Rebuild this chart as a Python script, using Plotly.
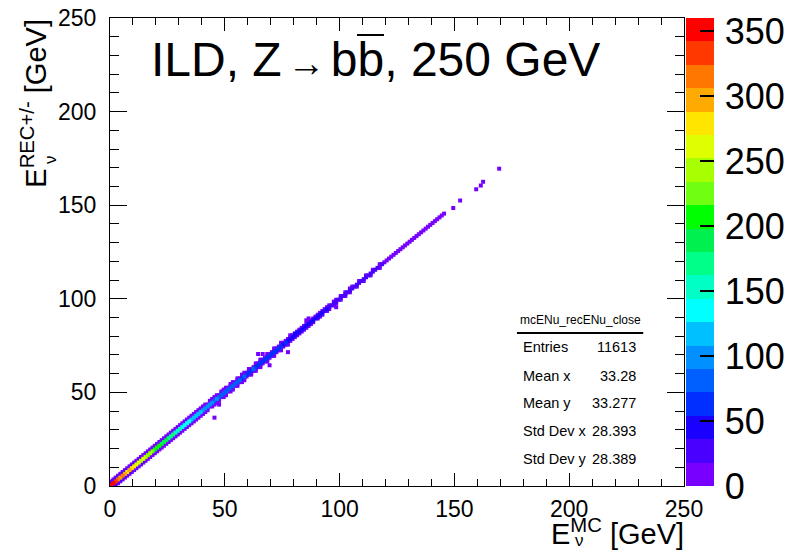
import numpy as np
import plotly.graph_objects as go

# ---------------- data (1 GeV bins) ----------------
nbins = 250
# counts on the diagonal bin (x = i, y = i)
diag_counts = [
    359, 345, 332, 318, 300, 310, 296, 284, 290, 276,
    280, 268, 262, 250, 255, 238, 230, 236, 220, 214,
    205, 210, 198, 190, 182, 176, 170, 165, 158, 150,
    148, 140, 136, 130, 128, 122, 125, 116, 112, 108,
    104, 100, 98, 95, 92, 88, 90, 85, 82, 80,
    78, 80, 76, 74, 78, 72, 75, 70, 74, 68,
    70, 66, 72, 64, 68, 62, 66, 60, 64, 58,
    60, 56, 58, 54, 57, 52, 55, 50, 53, 48,
    50, 46, 48, 44, 46, 42, 44, 40, 42, 38,
    40, 36, 38, 34, 36, 32, 34, 30, 32, 28,
    30, 27, 28, 25, 26, 24, 25, 22, 23, 21,
    22, 20, 21, 19, 20, 18, 19, 17, 18, 16,
    17, 15, 16, 14, 15, 13, 14, 12, 13, 11,
    12, 10, 11, 9, 10, 8, 9, 7, 8, 6,
    6, 5, 4, 4, 3, 2,
]
# counts one bin above the diagonal (x = i, y = i + 1)
above_counts = [
    30, 24, 28, 20, 26, 18, 22, 25, 16, 21,
    19, 23, 14, 20, 17, 15, 19, 12, 16, 14,
    13, 15, 11, 14, 10, 12, 9, 13, 8, 11,
    10, 8, 12, 7, 9, 6, 10, 7, 8, 5,
    8, 6, 7, 5, 6, 8, 4, 6, 5, 7,
    4, 6, 5, 3, 5, 4, 6, 3, 4, 5,
    3, 4, 5, 2, 4, 3, 5, 2, 3, 4,
    2, 3, 4, 2, 3, 2, 3, 1, 3, 2,
    2, 1, 3, 2, 1, 2, 2, 1, 2, 1,
    1, 2, 1, 1, 2, 1, 0, 1, 1, 0,
    1, 0, 1, 0, 1, 1, 0, 0, 1, 0,
    0, 1, 0, 0, 1, 0, 0, 1, 0, 0,
]
# counts one bin below the diagonal (x = i + 1, y = i)
below_counts = [
    26, 29, 22, 25, 19, 24, 17, 21, 23, 15,
    22, 16, 18, 21, 13, 17, 14, 18, 11, 15,
    14, 12, 15, 9, 13, 11, 12, 8, 10, 9,
    11, 7, 9, 10, 6, 8, 7, 9, 5, 7,
    6, 7, 4, 8, 5, 6, 5, 4, 6, 3,
    5, 3, 6, 4, 4, 5, 3, 4, 2, 5,
    4, 2, 4, 3, 3, 2, 4, 3, 2, 3,
    3, 2, 2, 3, 1, 2, 2, 3, 1, 2,
    1, 2, 2, 1, 2, 1, 1, 2, 0, 1,
    2, 1, 0, 1, 1, 0, 1, 1, 0, 1,
    0, 1, 0, 1, 0, 0, 1, 0, 0, 1,
    0, 0, 1, 0, 0, 0, 1, 0, 0, 0,
]
# counts two bins above the diagonal (x = i, y = i + 2)
above2_counts = [
    8, 6, 9, 5, 7, 4, 6, 8, 3, 5,
    6, 4, 5, 3, 6, 2, 4, 5, 3, 4,
    3, 2, 4, 1, 3, 2, 3, 1, 2, 3,
    2, 1, 2, 3, 1, 2, 1, 2, 1, 1,
    2, 1, 0, 1, 2, 1, 1, 0, 1, 1,
    1, 0, 1, 1, 0, 1, 0, 1, 1, 0,
    1, 0, 0, 1, 0, 1, 0, 0, 1, 0,
    0, 1, 0, 0, 1, 0, 0, 0, 1, 0,
]
# counts two bins below the diagonal (x = i + 2, y = i)
below2_counts = [
    7, 9, 5, 6, 8, 4, 5, 7, 4, 6,
    3, 5, 4, 6, 2, 4, 3, 5, 2, 3,
    4, 2, 3, 2, 1, 3, 2, 2, 3, 1,
    2, 2, 1, 1, 2, 1, 2, 1, 1, 2,
    1, 0, 1, 2, 1, 1, 0, 1, 1, 0,
    1, 1, 0, 1, 0, 1, 1, 0, 0, 1,
    0, 1, 0, 1, 0, 0, 1, 0, 0, 1,
    0, 0, 1, 0, 0, 1, 0, 0, 0, 0,
]
# isolated bins away from the diagonal
outlier_x = [45, 47, 64, 66, 69, 69, 77, 98, 85, 86, 80, 149, 152, 159, 161, 162, 169]
outlier_y = [36, 43, 70, 70, 68, 64, 71, 95, 88, 89, 81, 148, 152, 158, 160, 162, 169]
outlier_n = [3, 2, 2, 2, 3, 2, 3, 5, 8, 6, 40, 2, 1, 1, 1, 1, 1]

colorbar_ticks = [0, 50, 100, 150, 200, 250, 300, 350]
axis_ticks = [0, 50, 100, 150, 200, 250]

stats_title = "mcENu_recENu_close"
stats_labels = ["Entries", "Mean x", "Mean y", "Std Dev x", "Std Dev y"]
stats_values = ["11613", "33.28", "33.277", "28.393", "28.389"]

# ---------------- filled bins of the 2-D histogram ----------------
bins = {}


def put(xb, yb, c):
    if c > 0 and 0 <= xb < nbins and 0 <= yb < nbins:
        bins[(xb, yb)] = c


for i, c in enumerate(diag_counts):
    put(i, i, c)
for i, c in enumerate(above_counts):
    put(i, i + 1, c)
for i, c in enumerate(below_counts):
    put(i + 1, i, c)
for i, c in enumerate(above2_counts):
    put(i, i + 2, c)
for i, c in enumerate(below2_counts):
    put(i + 2, i, c)
for xx, yy, n in zip(outlier_x, outlier_y, outlier_n):
    put(xx, yy, n)

# draw low counts first so that the busy core ends up on top
items = sorted(bins.items(), key=lambda kv: kv[1])
bx = [k[0] + 0.5 for k, v in items]
by = [k[1] + 0.5 for k, v in items]
bc = [v for k, v in items]

palette = [
    "#7700ff", "#4a00ff", "#1a00ff", "#0030ff", "#0060ff",
    "#0090ff", "#00c0ff", "#00ffff", "#00ffc4", "#00ff88",
    "#00f050", "#00ff00", "#70ff10", "#a8ff00", "#ddff00",
    "#ffe600", "#ffaa00", "#ff7700", "#ff3800", "#ff0000",
]
cs = []
n = len(palette)
for k, c in enumerate(palette):
    cs.append([k / n, c])
    cs.append([(k + 1) / n, c])

FONT = "Liberation Sans, Arial, sans-serif"

fig = go.Figure()
fig.add_trace(go.Scatter(
    x=bx, y=by, mode="markers", hoverinfo="skip",
    marker=dict(
        symbol="square", size=4, line=dict(width=0),
        color=bc, cmin=0, cmax=360, colorscale=cs, showscale=True,
        colorbar=dict(
            x=1.0035, xanchor="left", xpad=0, y=0.5, yanchor="middle", ypad=0,
            len=1, lenmode="fraction", thickness=28, outlinewidth=0,
            ticks="inside", ticklen=14, tickwidth=2, tickcolor="black",
            tickvals=colorbar_ticks,
            ticktext=["\u200a" + str(v) for v in colorbar_ticks],
            tickfont=dict(family=FONT, size=36, color="black"),
        ),
    ),
))

axis_common = dict(
    range=[0, 250], showgrid=False, zeroline=False,
    showline=True, linecolor="black", linewidth=1, mirror="allticks",
    ticks="inside", tickcolor="black", tickwidth=1,
    tickvals=axis_ticks, ticktext=[str(v) for v in axis_ticks],
    tickfont=dict(family=FONT, size=23, color="black"),
    minor=dict(ticks="inside", dtick=10, tick0=0, tickcolor="black", showgrid=False),
)
fig.update_xaxes(**axis_common, ticklen=13, minor_ticklen=7, ticklabelstandoff=2)
fig.update_yaxes(**axis_common, ticklen=17, minor_ticklen=9, ticklabelstandoff=8)

annotations = []
# title
annotations.append(dict(
    xref="paper", yref="paper", x=0.068, y=0.912, xanchor="left", yanchor="middle",
    text=("ILD, Z<span style='font-size:20px'> </span>"
          "<span style='font-size:38px'>→</span>"
          "<span style='font-size:20px'> </span>bb, 250 GeV"),
    showarrow=False, font=dict(family=FONT, size=48, color="black"),
))
# x title
annotations.append(dict(
    xref="paper", yref="paper", x=1.004, y=-0.141, xanchor="right", yanchor="bottom",
    text="E<sup>MC</sup> [GeV]", showarrow=False,
    font=dict(family=FONT, size=29, color="black"),
))
annotations.append(dict(
    xref="paper", yref="paper", x=0.806, y=-0.142, xanchor="left", yanchor="bottom",
    text="ν", showarrow=False, font=dict(family=FONT, size=17, color="black"),
))
# y title
annotations.append(dict(
    xref="paper", yref="paper", x=-0.134, y=1.002, xanchor="center", yanchor="top",
    text="E<sup>REC+/-</sup> [GeV]", textangle=-90, showarrow=False,
    font=dict(family=FONT, size=29, color="black"),
))
annotations.append(dict(
    xref="paper", yref="paper", x=-0.104, y=0.697, xanchor="center", yanchor="middle",
    text="ν", textangle=-90, showarrow=False,
    font=dict(family=FONT, size=17, color="black"),
))
# stats box
annotations.append(dict(
    xref="paper", yref="paper", x=0.819, y=0.355, xanchor="center", yanchor="middle",
    text=stats_title, showarrow=False,
    font=dict(family=FONT, size=12, color="black"),
))
row_y = [0.297, 0.235, 0.177, 0.117, 0.057]
for lab, val, yy in zip(stats_labels, stats_values, row_y):
    annotations.append(dict(
        xref="paper", yref="paper", x=0.716, y=yy, xanchor="left", yanchor="middle",
        text=lab, showarrow=False, font=dict(family=FONT, size=14.5, color="black"),
    ))
    annotations.append(dict(
        xref="paper", yref="paper", x=0.920, y=yy, xanchor="right", yanchor="middle",
        text=val, showarrow=False, font=dict(family=FONT, size=14.5, color="black"),
    ))

fig.update_layout(
    width=791, height=551,
    margin=dict(l=110, r=107, t=18, b=65, autoexpand=False),
    paper_bgcolor="white", plot_bgcolor="white",
    annotations=annotations,
    shapes=[
        # line under the stats-box title
        dict(type="line", xref="paper", yref="paper",
             x0=0.709, x1=0.929, y0=0.327, y1=0.327,
             line=dict(color="black", width=2)),
        # bar over the anti-b in the title
        dict(type="line", xref="paper", yref="paper",
             x0=0.4303, x1=0.4774, y0=0.9637, y1=0.9637,
             line=dict(color="black", width=2)),
    ],
    showlegend=False,
)

fig.write_html("out.html")
